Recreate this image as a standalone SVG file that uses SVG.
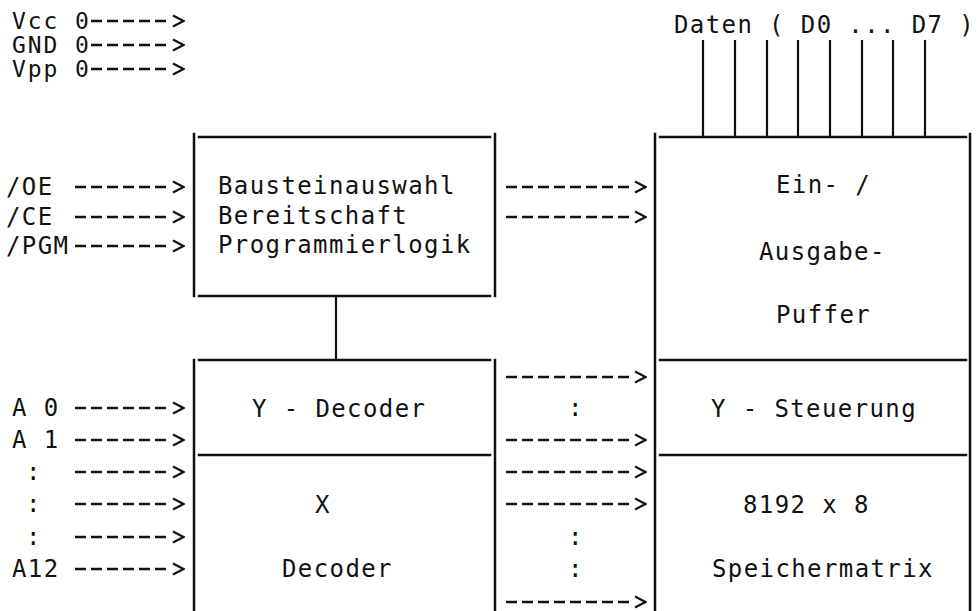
<svg xmlns="http://www.w3.org/2000/svg" width="980" height="611" viewBox="0 0 980 611">
<style>
.t{font-family:"DejaVu Sans Mono","Liberation Mono",monospace;font-size:24px;letter-spacing:1.4px;fill:#111}
.s{font-size:23px;letter-spacing:1.9px}
.b{stroke:#111;stroke-width:2.5;fill:none;stroke-linecap:square}
.w{stroke:#111;stroke-width:2.2;fill:none}
.a{stroke:#111;stroke-width:2.4;fill:none;stroke-dasharray:11 5;marker-end:url(#chev)}
</style>
<defs>
<marker id="chev" markerUnits="userSpaceOnUse" viewBox="0 0 15 14" refX="0" refY="7" markerWidth="15" markerHeight="14" orient="auto">
<path d="M3,1.5 L13.5,7 L3,12.5" fill="none" stroke="#111" stroke-width="2.2" stroke-dasharray="none"/>
</marker>
</defs>
<rect width="980" height="611" fill="#fff"/>

<g id="in-vcc"><text class="t s" x="12" y="29">Vcc 0</text></g>
<g id="in-gnd"><text class="t s" x="12" y="53">GND 0</text></g>
<g id="in-vpp"><text class="t s" x="12" y="77">Vpp 0</text></g>

<g id="in-oe"><text class="t" x="6" y="195">/OE</text></g>
<g id="in-ce"><text class="t" x="6" y="225">/CE</text></g>
<g id="in-pgm"><text class="t" x="6" y="254">/PGM</text></g>

<g id="in-a0"><text class="t" x="12" y="416">A 0</text></g>
<g id="in-a1"><text class="t" x="12" y="448">A 1</text></g>
<g id="in-dots"><text class="t" x="26" y="480">:</text><text class="t" x="26" y="512">:</text><text class="t" x="26" y="545">:</text></g>
<g id="in-a12"><text class="t" x="12" y="577">A12</text></g>

<g id="ctrl">
<line class="b" x1="194" y1="134" x2="194" y2="296"/>
<line class="b" x1="495" y1="134" x2="495" y2="296"/>
<line class="b" x1="199" y1="137" x2="490" y2="137"/>
<line class="b" x1="199" y1="296" x2="490" y2="296"/>
<text class="t" x="218" y="194">Bausteinauswahl</text>
<text class="t" x="218" y="224">Bereitschaft</text>
<text class="t" x="218" y="253">Programmierlogik</text>
</g>

<g id="decoder">
<line class="b" x1="194" y1="360" x2="194" y2="611"/>
<line class="b" x1="495" y1="360" x2="495" y2="611"/>
<line class="b" x1="199" y1="360" x2="490" y2="360"/>
<g id="y-decoder">
<line class="b" x1="199" y1="455" x2="490" y2="455"/>
<text class="t" x="252" y="417">Y - Decoder</text>
</g>
<g id="x-decoder">
<text class="t" x="315" y="513">X</text>
<text class="t" x="282" y="577">Decoder</text>
</g>
</g>

<g id="memory">
<line class="b" x1="655" y1="134" x2="655" y2="611"/>
<line class="b" x1="970" y1="134" x2="970" y2="611"/>
<line class="b" x1="660" y1="137" x2="966" y2="137"/>
<g id="io-buffer">
<text class="t" x="776" y="193">Ein- /</text>
<text class="t" x="759" y="260">Ausgabe-</text>
<text class="t" x="776" y="323">Puffer</text>
</g>
<g id="y-steuerung">
<line class="b" x1="660" y1="360" x2="966" y2="360"/>
<text class="t" x="711" y="417">Y - Steuerung</text>
</g>
<g id="matrix">
<line class="b" x1="660" y1="455" x2="966" y2="455"/>
<text class="t" x="743" y="513">8192 x 8</text>
<text class="t" x="712" y="577">Speichermatrix</text>
</g>
</g>

<g id="data"><text class="t" x="674" y="33">Daten ( D0 ... D7 )</text></g>

<g id="connectors">
<line class="a" x1="91" y1="21" x2="170" y2="21"/>
<line class="a" x1="91" y1="45" x2="170" y2="45"/>
<line class="a" x1="91" y1="69" x2="170" y2="69"/>

<line class="a" x1="75" y1="187" x2="170" y2="187"/>
<line class="a" x1="75" y1="217" x2="170" y2="217"/>
<line class="a" x1="75" y1="246" x2="170" y2="246"/>

<line class="a" x1="506" y1="187" x2="632" y2="187"/>
<line class="a" x1="506" y1="217" x2="632" y2="217"/>

<line class="w" x1="336" y1="296" x2="336" y2="360"/>

<line class="a" x1="75" y1="408" x2="170" y2="408"/>
<line class="a" x1="75" y1="440" x2="170" y2="440"/>
<line class="a" x1="75" y1="472" x2="170" y2="472"/>
<line class="a" x1="75" y1="504" x2="170" y2="504"/>
<line class="a" x1="75" y1="537" x2="170" y2="537"/>
<line class="a" x1="75" y1="569" x2="170" y2="569"/>

<line class="a" x1="506" y1="377" x2="632" y2="377"/>
<line class="a" x1="506" y1="440" x2="632" y2="440"/>
<line class="a" x1="506" y1="472" x2="632" y2="472"/>
<line class="a" x1="506" y1="504" x2="632" y2="504"/>
<line class="a" x1="506" y1="602" x2="632" y2="602"/>
<text class="t" x="568" y="416">:</text>
<text class="t" x="568" y="545">:</text>
<text class="t" x="568" y="577">:</text>

<line class="w" x1="703" y1="40" x2="703" y2="137"/>
<line class="w" x1="735" y1="40" x2="735" y2="137"/>
<line class="w" x1="767" y1="40" x2="767" y2="137"/>
<line class="w" x1="798" y1="40" x2="798" y2="137"/>
<line class="w" x1="830" y1="40" x2="830" y2="137"/>
<line class="w" x1="862" y1="40" x2="862" y2="137"/>
<line class="w" x1="893" y1="40" x2="893" y2="137"/>
<line class="w" x1="925" y1="40" x2="925" y2="137"/>
</g>
</svg>
